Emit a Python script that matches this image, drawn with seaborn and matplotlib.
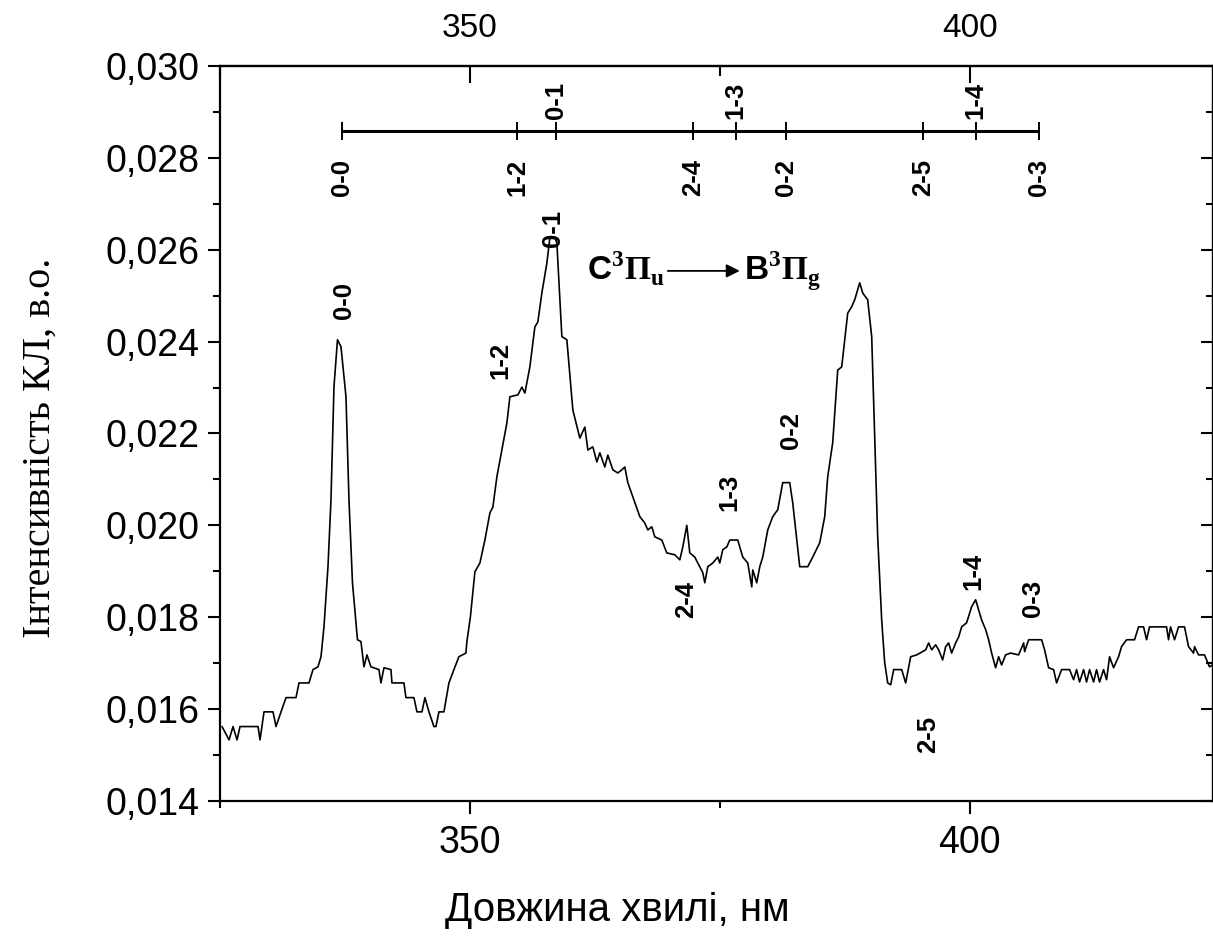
import matplotlib
matplotlib.use("Agg")
import matplotlib.pyplot as plt
from matplotlib.ticker import MultipleLocator, FuncFormatter
import seaborn as sns
import pandas as pd

# Cathodoluminescence spectrum: wavelength (nm) and intensity (arb. units)
wavelength = [
    325.2, 325.9, 326.3, 326.7, 327.0, 328.8, 329.0, 329.4, 330.3, 330.6,
    331.1, 331.6, 332.6, 332.9, 333.9, 334.3, 334.8, 335.1, 335.4, 335.8,
    336.1, 336.4, 336.75, 337.1, 337.6, 337.9, 338.25, 338.75, 339.1, 339.4,
    339.7, 340.1, 340.9, 341.1, 341.4, 342.1, 342.2, 343.4, 343.6, 344.4,
    344.7, 345.2, 345.5, 345.9, 346.4, 346.6, 346.9, 347.4, 347.9, 348.4,
    348.9, 349.6, 349.7, 350.05, 350.5, 351.0, 351.5, 352.0, 352.3, 352.7,
    353.2, 353.7, 354.0, 354.8, 355.2, 355.5, 356.0, 356.5, 356.8, 357.2,
    357.7, 358.0, 358.5, 358.7, 359.2, 359.7, 360.3, 360.8, 361.0, 361.5,
    361.8, 362.3, 362.7, 363.0, 363.5, 363.8, 364.3, 364.8, 365.2, 365.5,
    365.8, 366.3, 367.0, 367.5, 367.8, 368.2, 368.5, 369.2, 369.7, 370.5,
    371.0, 371.3, 371.7, 372.0, 372.5, 372.8, 373.3, 373.5, 373.8, 374.3,
    374.8, 375.0, 375.3, 375.7, 376.0, 376.8, 377.3, 377.8, 378.2, 378.3,
    378.7, 379.0, 379.3, 379.8, 380.3, 380.8, 381.3, 382.0, 382.3, 383.0,
    383.8, 384.3, 385.0, 385.5, 385.8, 386.3, 386.8, 387.2, 387.5, 387.8,
    388.2, 388.5, 388.8, 389.0, 389.3, 389.8, 390.2, 390.5, 390.8, 391.2,
    391.5, 391.8, 392.1, 392.4, 393.2, 393.6, 394.1, 394.7, 395.6, 395.9,
    396.2, 396.6, 396.9, 397.3, 397.6, 397.9, 398.2, 398.6, 398.9, 399.2,
    399.7, 400.2, 400.6, 400.9, 401.2, 401.6, 401.9, 402.2, 402.6, 402.9,
    403.2, 403.6, 404.1, 404.9, 405.4, 405.5, 405.9, 407.2, 407.5, 407.9,
    408.4, 408.7, 409.2, 410.0, 410.4, 410.7, 411.0, 411.4, 411.7, 412.0,
    412.4, 412.7, 413.0, 413.4, 413.7, 414.0, 414.4, 414.9, 415.2, 415.7,
    416.5, 416.9, 417.4, 417.7, 418.0, 419.7, 419.9, 420.1, 420.5, 420.9,
    421.5, 421.9, 422.4, 422.5, 422.9, 423.5, 424.0, 424.3,
]
intensity = [
    0.01562, 0.01533, 0.01562, 0.01533, 0.01562, 0.01562, 0.01533, 0.01594, 0.01594, 0.01562,
    0.01594, 0.01625, 0.01625, 0.01657, 0.01657, 0.01686, 0.01692, 0.01714, 0.01779, 0.01910,
    0.02056, 0.02302, 0.02404, 0.02389, 0.02280, 0.02056, 0.01875, 0.01751, 0.01747, 0.01692,
    0.01718, 0.01692, 0.01686, 0.01657, 0.01690, 0.01686, 0.01657, 0.01657, 0.01625, 0.01625,
    0.01594, 0.01594, 0.01625, 0.01594, 0.01562, 0.01562, 0.01594, 0.01594, 0.01657, 0.01686,
    0.01714, 0.01722, 0.01747, 0.01801, 0.01899, 0.01918, 0.01968, 0.02027, 0.02040, 0.02106,
    0.02164, 0.02223, 0.02280, 0.02284, 0.02301, 0.02288, 0.02345, 0.02432, 0.02443, 0.02506,
    0.02571, 0.02626, 0.02626, 0.02615, 0.02411, 0.02404, 0.02251, 0.02208, 0.02190, 0.02214,
    0.02164, 0.02171, 0.02138, 0.02158, 0.02127, 0.02153, 0.02121, 0.02114, 0.02121, 0.02127,
    0.02093, 0.02062, 0.02019, 0.02005, 0.01990, 0.01997, 0.01975, 0.01968, 0.01940, 0.01936,
    0.01925, 0.01953, 0.02000, 0.01940, 0.01931, 0.01918, 0.01897, 0.01875, 0.01910, 0.01918,
    0.01931, 0.01918, 0.01947, 0.01953, 0.01968, 0.01968, 0.01931, 0.01918, 0.01866, 0.01903,
    0.01875, 0.01910, 0.01931, 0.01990, 0.02019, 0.02034, 0.02093, 0.02093, 0.02049, 0.01910,
    0.01910, 0.01931, 0.01962, 0.02019, 0.02106, 0.02180, 0.02338, 0.02345, 0.02404, 0.02462,
    0.02476, 0.02491, 0.02513, 0.02528, 0.02506, 0.02491, 0.02411, 0.02193, 0.01975, 0.01794,
    0.01701, 0.01657, 0.01653, 0.01686, 0.01686, 0.01657, 0.01714, 0.01718, 0.01729, 0.01744,
    0.01729, 0.01740, 0.01729, 0.01707, 0.01736, 0.01744, 0.01722, 0.01744, 0.01757, 0.01779,
    0.01788, 0.01823, 0.01838, 0.01816, 0.01794, 0.01773, 0.01751, 0.01722, 0.01690, 0.01714,
    0.01696, 0.01718, 0.01722, 0.01718, 0.01744, 0.01725, 0.01751, 0.01751, 0.01729, 0.01690,
    0.01686, 0.01657, 0.01686, 0.01686, 0.01664, 0.01686, 0.01659, 0.01686, 0.01659, 0.01686,
    0.01659, 0.01686, 0.01659, 0.01686, 0.01664, 0.01714, 0.01690, 0.01714, 0.01736, 0.01751,
    0.01751, 0.01779, 0.01779, 0.01751, 0.01779, 0.01779, 0.01751, 0.01779, 0.01751, 0.01779,
    0.01779, 0.01736, 0.01722, 0.01736, 0.01718, 0.01718, 0.01692, 0.01696,
]

# Vibrational bands of the C3Pu -> B3Pg system
band_names = ["0-0", "1-2", "0-1", "2-4", "1-3", "0-2", "2-5", "1-4", "0-3"]
band_bar_pos = [337.2, 354.7, 358.6, 372.3, 376.6, 381.6, 395.3, 400.6, 406.9]
band_label_above = [False, False, True, False, True, False, False, True, False]

# where each band name sits next to the spectrum
peak_label_x = [337.4, 353.0, 358.3, 371.6, 376.0, 382.1, 395.8, 400.4, 406.3]
peak_label_y = [0.02489, 0.02360, 0.02647, 0.01838, 0.02071, 0.02206, 0.01544, 0.01899, 0.01842]

x_ticks = [350, 400]
y_ticks = [0.014, 0.016, 0.018, 0.020, 0.022, 0.024, 0.026, 0.028, 0.030]

sns.set_style("ticks")
plt.rcParams["font.family"] = ["Liberation Sans", "DejaVu Sans"]
plt.rcParams["text.color"] = "black"
plt.rcParams["axes.labelcolor"] = "black"
plt.rcParams["xtick.color"] = "black"
plt.rcParams["ytick.color"] = "black"
plt.rcParams["mathtext.fontset"] = "custom"
plt.rcParams["mathtext.rm"] = "Liberation Serif:bold"
plt.rcParams["mathtext.bf"] = "Liberation Sans:bold"

fig = plt.figure(figsize=(12.13, 9.47), dpi=100)
ax = fig.add_axes([0.1814, 0.1542, 0.8182, 0.7761])

df = pd.DataFrame({"wavelength": wavelength, "intensity": intensity})
sns.lineplot(data=df, x="wavelength", y="intensity", ax=ax, color="black",
             linewidth=1.2, sort=False, estimator=None)

ax.set_xlim(325, 424.3)
ax.set_ylim(0.014, 0.030)
ax.set_xlabel("")
ax.set_ylabel("")

comma = FuncFormatter(lambda v, _: f"{v:.3f}".replace(".", ","))
ax.set_yticks(y_ticks)
ax.yaxis.set_major_formatter(comma)
ax.yaxis.set_minor_locator(MultipleLocator(0.001))
ax.set_xticks(x_ticks)
ax.xaxis.set_minor_locator(MultipleLocator(25))

for sp in ax.spines.values():
    sp.set_linewidth(1.6)
    sp.set_color("black")

ax.tick_params(axis="both", which="major", direction="out", length=9, width=1.5,
               labelsize=27, colors="black", pad=6)
ax.tick_params(axis="both", which="minor", direction="out", length=5, width=1.5,
               colors="black")
ax.tick_params(axis="x", which="major", pad=8)

# top axis: inward ticks
top = ax.secondary_xaxis("top")
top.set_xticks(x_ticks)
top.xaxis.set_minor_locator(MultipleLocator(25))
top.tick_params(axis="x", which="major", direction="in", length=12, width=1.5, pad=16,
                labelsize=24, colors="black")
top.tick_params(axis="x", which="minor", direction="in", length=7, width=1.5,
                colors="black")
top.spines["top"].set_linewidth(1.6)

# right axis: inward ticks, no labels
right = ax.secondary_yaxis("right")
right.set_yticks(y_ticks)
right.yaxis.set_minor_locator(MultipleLocator(0.001))
right.tick_params(axis="y", which="major", direction="in", length=9, width=1.5,
                  labelright=False, colors="black")
right.tick_params(axis="y", which="minor", direction="in", length=5, width=1.5,
                  colors="black")
right.spines["right"].set_linewidth(1.6)

# band position scale across the top
bar_y = 0.02859
bar_half = 0.00020
ax.hlines(bar_y, min(band_bar_pos), max(band_bar_pos), color="black", linewidth=2.2)
ax.vlines(band_bar_pos, bar_y - bar_half, bar_y + bar_half, color="black", linewidth=1.4)
for name, pos, above in zip(band_names, band_bar_pos, band_label_above):
    ax.text(pos, 0.02926 if above else 0.02758, name, rotation=90, ha="center",
            va="center", fontsize=18.5, fontweight="bold")

# band names beside the spectrum
for name, lx, ly in zip(band_names, peak_label_x, peak_label_y):
    ax.text(lx, ly, name, rotation=90, ha="center", va="center",
            fontsize=18.5, fontweight="bold")

# electronic transition
ax.text(361.7, 0.02534, r"$\mathbf{C}^{\mathrm{3}}\mathrm{\Pi}_{\mathrm{u}}$",
        fontsize=24, ha="left", va="baseline")
ax.annotate("", xy=(377.0, 0.02554), xytext=(369.8, 0.02554),
            arrowprops=dict(arrowstyle="-|>", color="black", lw=1.3,
                            mutation_scale=20, shrinkA=0, shrinkB=0))
ax.text(377.4, 0.02534, r"$\mathbf{B}^{\mathrm{3}}\mathrm{\Pi}_{\mathrm{g}}$",
        fontsize=24, ha="left", va="baseline")

fig.text(40 / 1213, 0.527, "Інтенсивність КЛ, в.о.", rotation=90, ha="center",
         va="center", fontsize=29, family=["Liberation Serif", "DejaVu Serif"])
fig.text(617 / 1213, 0.039, "Довжина хвилі, нм", ha="center", va="center",
         fontsize=29)

fig.savefig("out.png", dpi=100)
